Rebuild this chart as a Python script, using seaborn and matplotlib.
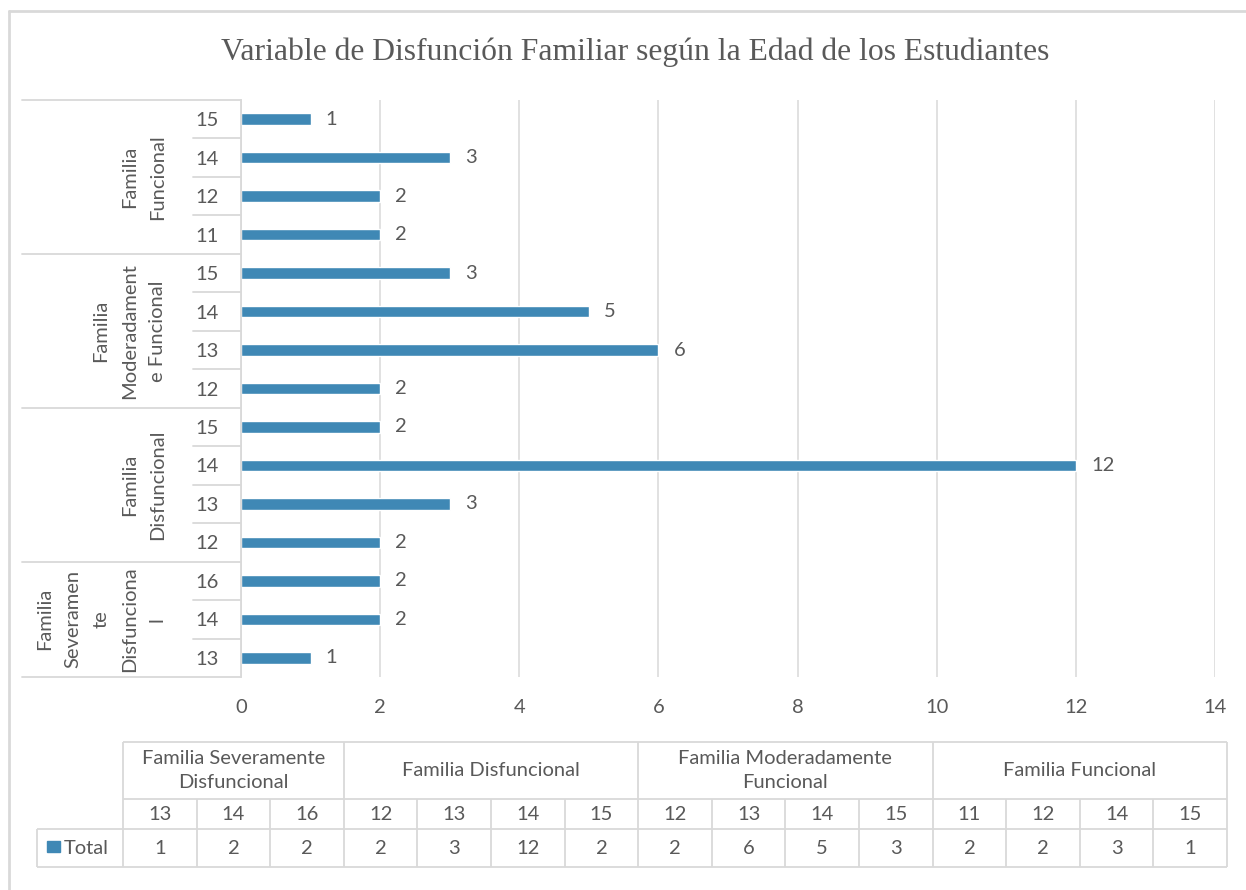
import matplotlib
matplotlib.use("Agg")
import matplotlib.pyplot as plt
import seaborn as sns
import pandas as pd
from matplotlib.lines import Line2D
from matplotlib.patches import Rectangle
from matplotlib.transforms import blended_transform_factory

# ---------------- data ----------------
groups = ["Familia Severamente Disfuncional", "Familia Disfuncional",
          "Familia Moderadamente Funcional", "Familia Funcional"]
axis_group_labels = ["Familia\nSeveramen\nte\nDisfunciona\nl", "Familia\nDisfuncional",
                     "Familia\nModeradament\ne Funcional", "Familia\nFuncional"]
table_group_labels = ["Familia Severamente\nDisfuncional", "Familia Disfuncional",
                      "Familia Moderadamente\nFuncional", "Familia Funcional"]
ages_sev = [13, 14, 16]
ages_dis = [12, 13, 14, 15]
ages_mod = [12, 13, 14, 15]
ages_fun = [11, 12, 14, 15]
total_sev = [1, 2, 2]
total_dis = [2, 3, 12, 2]
total_mod = [2, 6, 5, 3]
total_fun = [2, 2, 3, 1]
ages = [ages_sev, ages_dis, ages_mod, ages_fun]
totals = [total_sev, total_dis, total_mod, total_fun]
series_name = "Total"
x_ticks = [0, 2, 4, 6, 8, 10, 12, 14]
title = "Variable de Disfunción Familiar según la Edad de los Estudiantes"

rows = []
for g, a_list, t_list in zip(groups, ages, totals):
    for a, t in zip(a_list, t_list):
        rows.append({"grupo": g, "edad": a, "key": f"{g}|{a}", "total": t})
df = pd.DataFrame(rows)
order = list(df["key"])[::-1]          # top of chart = last row of table

# ---------------- style ----------------
sns.set_theme(style="white")
FONT = "Lato"
plt.rcParams["font.family"] = [FONT, "DejaVu Sans"]
TXT = "#595959"
GRID = "#d9d9d9"
BAR = "#3f88b5"
FS = 14.5

W, H = 1246, 890
fig = plt.figure(figsize=(W / 100, H / 100), dpi=100)
fig.patch.set_facecolor("white")

def fx(px):
    return px / W

def fy(py):
    return 1 - py / H

# outer chart border (left and top visible)
fig.add_artist(Line2D([fx(9), fx(9)], [fy(11), fy(890)], color=GRID, lw=2))
fig.add_artist(Line2D([fx(9), fx(1246)], [fy(11), fy(11)], color=GRID, lw=2))

# ---------------- bar chart ----------------
ax_l, ax_r, ax_t, ax_b = 241, 1215, 100, 677
ax = fig.add_axes([fx(ax_l), fy(ax_b), fx(ax_r - ax_l), (ax_b - ax_t) / H])
sns.barplot(data=df, y="key", x="total", order=order, orient="h",
            color=BAR, width=0.3, saturation=1, ax=ax, errorbar=None)
ax.set_xlim(0, 14)
ax.set_ylim(len(order) - 0.5, -0.5)
ax.set_xticks(x_ticks)
ax.set_xticklabels([str(t) for t in x_ticks], color=TXT, fontsize=FS)
ax.set_yticks(range(len(order)))
ax.set_yticklabels([k.split("|")[1] for k in order], color=TXT, fontsize=FS)
ax.tick_params(axis="x", length=0, pad=16)
for lab in ax.get_yticklabels():
    lab.set_horizontalalignment("center")
ax.tick_params(axis="y", length=0, pad=24.5)
ax.set_xlabel("")
ax.set_ylabel("")
ax.grid(axis="x", color=GRID, lw=1.1)
ax.set_axisbelow(True)
for s in ["top", "right", "bottom"]:
    ax.spines[s].set_visible(False)
ax.spines["left"].set_color(GRID)
ax.spines["left"].set_linewidth(1.3)
for c in ax.containers:
    ax.bar_label(c, padding=11, color=TXT, fontsize=FS)

# category box lines
tr = blended_transform_factory(ax.transAxes, ax.transData)
def axfx(px):
    return (px - ax_l) / (ax_r - ax_l)

n = len(order)
bounds = [-0.5]
acc = -0.5
for a_list in ages[::-1]:
    acc += len(a_list)
    bounds.append(acc)
for i in range(n + 1):
    yb = i - 0.5
    if yb in bounds:
        x0 = axfx(22)
    else:
        x0 = axfx(193)
    ax.add_line(Line2D([x0, 0], [yb, yb], transform=tr, color=GRID, lw=1.3, clip_on=False))

for gi, (lab, a_list) in enumerate(zip(axis_group_labels[::-1], ages[::-1])):
    yc = (bounds[gi] + bounds[gi + 1]) / 2
    ax.text(axfx(166), yc, lab, transform=tr, rotation=90, ha="right", va="center",
            multialignment="center", color=TXT, fontsize=FS, linespacing=1.8)

# title
fig.text(fx(635), fy(52), title, ha="center", va="center", color=TXT,
         fontsize=22.8, family=["Liberation Serif", "DejaVu Serif"])

# ---------------- data table ----------------
t_l, t_r, t_t, t_b = 123, 1227, 742, 867
tax = fig.add_axes([fx(t_l), fy(t_b), fx(t_r - t_l), (t_b - t_t) / H])
ncol = sum(len(a) for a in ages)
tax.set_xlim(0, ncol)
r0, r1, r2, r3 = 0, 57, 87, 125
tax.set_ylim(r3, r0)
tax.axis("off")
col_w = (t_r - t_l) / ncol
x_total = -(t_l - 37) / col_w
lkw = dict(color=GRID, lw=1.3, clip_on=False, solid_capstyle="butt")

tax.plot([0, ncol], [r0, r0], **lkw)
tax.plot([0, ncol], [r1, r1], **lkw)
tax.plot([x_total, ncol], [r2, r2], **lkw)
tax.plot([x_total, ncol], [r3, r3], **lkw)
tax.plot([x_total, x_total], [r2, r3], **lkw)

start = 0
for g_lab, a_list, t_list in zip(table_group_labels, ages, totals):
    end = start + len(a_list)
    tax.plot([start, start], [r0, r3], **lkw)
    tax.text((start + end) / 2, (r0 + r1) / 2, g_lab, ha="center", va="center",
             color=TXT, fontsize=FS, linespacing=1.5, clip_on=False)
    for j, (a, t) in enumerate(zip(a_list, t_list)):
        c = start + j
        if j > 0:
            tax.plot([c, c], [r1, r3], **lkw)
        tax.text(c + 0.5, (r1 + r2) / 2, str(a), ha="center", va="center",
                 color=TXT, fontsize=FS, clip_on=False)
        tax.text(c + 0.5, (r2 + r3) / 2, str(t), ha="center", va="center",
                 color=TXT, fontsize=FS, clip_on=False)
    start = end
tax.plot([ncol, ncol], [r0, r3], **lkw)

# legend key cell
fig.add_artist(Rectangle((fx(47), fy(852)), fx(13), 11 / H, color=BAR))
fig.text(fx(64), fy(848), series_name, ha="left", va="center", color=TXT, fontsize=FS)

fig.savefig("out.png", dpi=100, facecolor="white")
